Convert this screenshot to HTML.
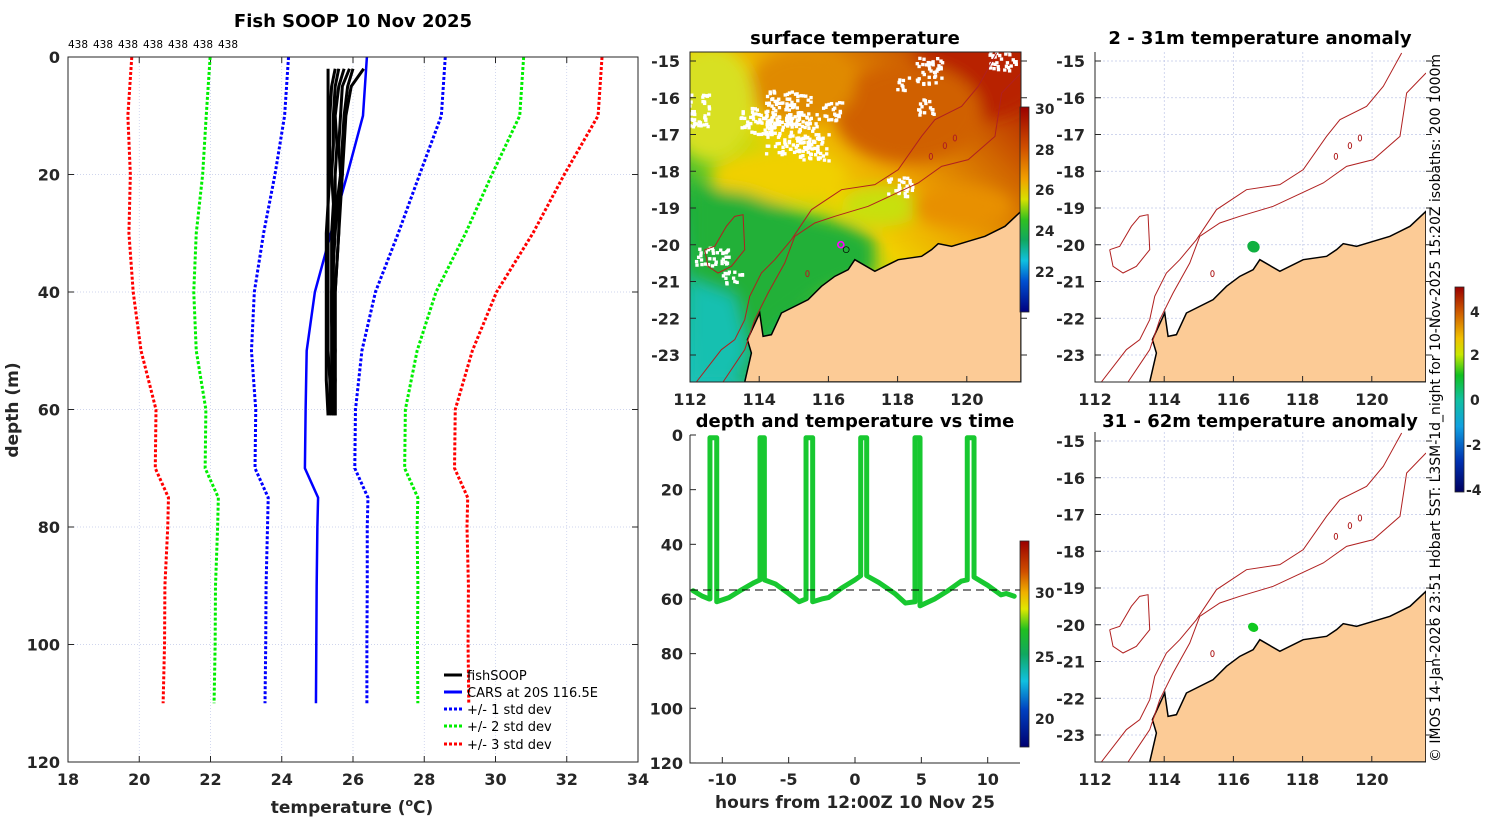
<!DOCTYPE html>
<html><head><meta charset="utf-8"><style>
body{margin:0;background:#fff;}
svg text{font-family:"DejaVu Sans","Liberation Sans",sans-serif;}
.tk{font-size:16px;font-weight:bold;fill:#262626;}
.ttl{font-size:18px;font-weight:bold;fill:#000;}
</style></head><body>
<svg id="fig" width="1500" height="820" viewBox="0 0 1500 820" xmlns="http://www.w3.org/2000/svg">
<defs>
<filter id="blur" x="-20%" y="-20%" width="140%" height="140%"><feGaussianBlur stdDeviation="22"/></filter>
<clipPath id="clipSST"><rect x="166" y="97" width="992" height="990"/></clipPath>
<linearGradient id="sstg" x1="200" y1="1050" x2="1120" y2="120" gradientUnits="userSpaceOnUse">
<stop offset="0" stop-color="#20c0b8"/><stop offset="0.25" stop-color="#18b040"/><stop offset="0.4" stop-color="#b0dc10"/><stop offset="0.5" stop-color="#f0d000"/><stop offset="0.65" stop-color="#eca000"/><stop offset="0.82" stop-color="#d06400"/><stop offset="1" stop-color="#b01800"/></linearGradient>
<linearGradient id="jet1" x1="0" y1="0" x2="0" y2="1">
<stop offset="0" stop-color="#9a0000"/><stop offset="0.2" stop-color="#d05000"/><stop offset="0.35" stop-color="#f0a000"/><stop offset="0.45" stop-color="#d8e000"/><stop offset="0.55" stop-color="#30c020"/><stop offset="0.65" stop-color="#10a860"/><stop offset="0.75" stop-color="#10c0e0"/><stop offset="0.85" stop-color="#0050d0"/><stop offset="1" stop-color="#000080"/></linearGradient>
<linearGradient id="jet2" x1="0" y1="0" x2="0" y2="1">
<stop offset="0" stop-color="#9a0000"/><stop offset="0.15" stop-color="#d05000"/><stop offset="0.25" stop-color="#f0b000"/><stop offset="0.33" stop-color="#e0e800"/><stop offset="0.43" stop-color="#20c020"/><stop offset="0.55" stop-color="#10a860"/><stop offset="0.68" stop-color="#10c0e0"/><stop offset="0.82" stop-color="#0040c0"/><stop offset="1" stop-color="#000070"/></linearGradient>
<linearGradient id="jet3" x1="0" y1="0" x2="0" y2="1">
<stop offset="0" stop-color="#9a0000"/><stop offset="0.13" stop-color="#d06000"/><stop offset="0.25" stop-color="#f0c000"/><stop offset="0.33" stop-color="#c8e800"/><stop offset="0.43" stop-color="#10c020"/><stop offset="0.55" stop-color="#10c0a0"/><stop offset="0.68" stop-color="#10a0e0"/><stop offset="0.85" stop-color="#0030b0"/><stop offset="1" stop-color="#000060"/></linearGradient>
</defs>

<g id="prof"></g>
<text class="ttl" x="353" y="27" text-anchor="middle">Fish SOOP 10 Nov 2025</text>
<text x="352" y="813" text-anchor="middle" style="font-size:17px;font-weight:bold;fill:#262626">temperature (<tspan dy="-7" font-size="11">o</tspan><tspan dy="7">C)</tspan></text>
<text transform="translate(18,410) rotate(-90)" text-anchor="middle" style="font-size:17px;font-weight:bold;fill:#262626">depth (m)</text>
<g style="font-size:13px">
<line x1="444" y1="675" x2="462" y2="675" stroke="#000" stroke-width="3"/><text x="467" y="680">fishSOOP</text>
<line x1="444" y1="692" x2="462" y2="692" stroke="#0000ff" stroke-width="3"/><text x="467" y="697">CARS at 20S 116.5E</text>
<line x1="444" y1="709" x2="462" y2="709" stroke="#0000ff" stroke-width="3" stroke-dasharray="3 2"/><text x="467" y="714">+/- 1 std dev</text>
<line x1="444" y1="726" x2="462" y2="726" stroke="#00ee00" stroke-width="3" stroke-dasharray="3 2"/><text x="467" y="731">+/- 2 std dev</text>
<line x1="444" y1="744" x2="462" y2="744" stroke="#ff0000" stroke-width="3" stroke-dasharray="3 2"/><text x="467" y="749">+/- 3 std dev</text>
</g>

<text class="ttl" x="855" y="44" text-anchor="middle">surface temperature</text>
<svg x="690" y="52" width="331" height="330" viewBox="166 97 992 990" preserveAspectRatio="none">
<g clip-path="url(#clipSST)">
<rect x="0" y="0" width="1300" height="1200" fill="url(#sstg)"/>
<g filter="url(#blur)">
<ellipse cx="1020" cy="170" rx="200" ry="130" fill="#b82000"/>
<ellipse cx="820" cy="280" rx="220" ry="150" fill="#d06000"/>
<ellipse cx="500" cy="200" rx="160" ry="110" fill="#e08a00"/>
<ellipse cx="230" cy="250" rx="130" ry="170" fill="#d8e020"/>
<ellipse cx="430" cy="470" rx="200" ry="80" fill="#f0d000"/>
<polygon points="166,500 330,520 500,580 650,620 720,660 720,760 560,820 420,920 340,1087 166,1087" fill="#20b038"/>
<polygon points="166,780 300,830 340,1000 300,1087 166,1087" fill="#18c0b0"/>
<ellipse cx="740" cy="560" rx="120" ry="60" fill="#c8e010"/>
<ellipse cx="980" cy="560" rx="150" ry="60" fill="#e89000"/>
</g>
<g id="clouds" fill="#fff"></g>
<g class="geo"></g>
<circle cx="618" cy="675" r="9" fill="none" stroke="#ff00ff" stroke-width="5"/>
<circle cx="634" cy="690" r="9" fill="none" stroke="#000" stroke-width="2"/>
</g>
</svg>
<rect x="690" y="52" width="331" height="330" fill="none" stroke="#262626" stroke-width="1"/>
<g id="sstAxes"></g>
<rect x="1020" y="107" width="9" height="205" fill="url(#jet1)" stroke="#262626" stroke-width="0.8"/>
<g class="tk" style="font-size:14px">
<text x="1035" y="114">30</text><text x="1035" y="155">28</text><text x="1035" y="195">26</text><text x="1035" y="236">24</text><text x="1035" y="277">22</text></g>

<text class="ttl" x="855" y="427" text-anchor="middle">depth and temperature vs time</text>
<g id="dvt"></g>
<text x="855" y="808" text-anchor="middle" style="font-size:17px;font-weight:bold;fill:#262626">hours from 12:00Z 10 Nov 25</text>
<rect x="1020" y="541" width="9" height="206" fill="url(#jet2)" stroke="#262626" stroke-width="0.8"/>
<g class="tk" style="font-size:14px">
<text x="1035" y="598">30</text><text x="1035" y="662">25</text><text x="1035" y="724">20</text></g>

<text class="ttl" x="1260" y="44" text-anchor="middle">2 - 31m temperature anomaly</text>
<text class="ttl" x="1260" y="427" text-anchor="middle">31 - 62m temperature anomaly</text>
<svg x="1095" y="52" width="331" height="330" viewBox="166 97 992 990" preserveAspectRatio="none">
<g class="grid"></g><g class="geo"></g>
<ellipse cx="641" cy="681" rx="19" ry="17" fill="#10b040" transform="rotate(30 641 681)"/>
</svg>
<svg x="1095" y="432" width="331" height="330" viewBox="166 97 992 990" preserveAspectRatio="none">
<g class="grid"></g><g class="geo"></g>
<ellipse cx="640" cy="683" rx="16" ry="13" fill="#10c820" transform="rotate(30 640 683)"/>
</svg>
<g id="anAxes"></g>
<rect x="1455" y="287" width="9" height="205" fill="url(#jet3)" stroke="#262626" stroke-width="0.8"/>
<g class="tk" style="font-size:14px">
<text x="1470" y="317">4</text><text x="1470" y="360">2</text><text x="1470" y="405">0</text><text x="1466" y="450">-2</text><text x="1466" y="495">-4</text></g>
<text transform="translate(1440,762) rotate(-90)" textLength="708" lengthAdjust="spacingAndGlyphs" style="font-size:14px;fill:#000">© IMOS 14-Jan-2026 23:51 Hobart SST: L3SM-1d_night for 10-Nov-2025 15:20Z isobaths: 200  1000m</text>
</svg>
<script>
const NS='http://www.w3.org/2000/svg';
const carsDepth=[0,10,20,30,40,50,60,70,75,80,90,100,110];
const carsMean=[26.39,26.28,25.84,25.38,24.93,24.7,24.67,24.65,25.02,25.0,24.98,24.97,24.96];
const carsStd=[2.2,2.2,2.03,1.89,1.7,1.55,1.4,1.4,1.4,1.4,1.42,1.42,1.43];
const soopDepth=[2,5,10,15,20,25,30,35,40,45,50,55,61];
const soopT1=[25.3,25.3,25.3,25.3,25.3,25.3,25.25,25.25,25.25,25.25,25.25,25.25,25.3];
const soopT2=[25.5,25.4,25.35,25.35,25.35,25.3,25.3,25.3,25.3,25.3,25.3,25.35,25.35];
const soopT3=[25.6,25.5,25.45,25.45,25.4,25.45,25.4,25.4,25.4,25.4,25.4,25.4,25.4];
const soopT4=[25.75,25.6,25.5,25.55,25.5,25.5,25.45,25.45,25.4,25.4,25.45,25.5,25.5];
const soopT5=[25.9,25.7,25.65,25.6,25.65,25.55,25.5,25.45,25.45,25.45,25.5,25.5,25.45];
const soopT6=[26.0,25.85,25.75,25.7,25.7,25.6,25.6,25.55,25.5,25.5,25.5,25.45,25.45];
const soopT7=[26.3,25.95,25.8,25.75,25.7,25.65,25.6,25.55,25.5,25.5,25.5,25.5,25.5];
const xTicks=[18,20,22,24,26,28,30,32,34];
const yTicks=[0,20,40,60,80,100,120];
const countLabels=['438','438','438','438','438','438','438'];
const dvtTime=[-12.2,-11.5,-11.0,-10.93,-10.93,-10.42,-10.42,-9.5,-8.5,-7.6,-7.16,-7.16,-6.83,-6.83,-6,-5,-4.2,-3.69,-3.69,-3.19,-3.19,-2.5,-2,-1,0,0.43,0.43,0.88,0.88,1.8,3.0,3.8,4.52,4.52,4.9,4.9,6,7,8,8.46,8.46,8.97,8.97,10,11,11.4,12];
const dvtDepth=[57,59,60,60,1,1,61,59.5,56.5,54,53,1,1,53,54.5,58,61,60,1,1,61,60,59.5,56,53,51.5,1,1,51.5,54,58,61.5,61,1,1,62.5,60,57,53.5,53,1,1,52,55,58.5,58,59];
const dvtXTicks=[-10,-5,0,5,10];
const dvtYTicks=[0,20,40,60,80,100,120];
const refDepth=[56.7];
const lonTicks=[112,114,116,118,120];
const latTicks=[-15,-16,-17,-18,-19,-20,-21,-22,-23];

function el(tag,attrs,parent){const e=document.createElementNS(NS,tag);for(const k in attrs)e.setAttribute(k,attrs[k]);parent.appendChild(e);return e;}
const X=t=>68+(t-18)*35.625, Y=d=>57+d*5.875;
const prof=document.getElementById('prof');
xTicks.forEach(t=>{
  const g=el('line',{x1:X(t),x2:X(t),y1:57,y2:762,stroke:'#c0c8e8','stroke-width':0.7,'stroke-dasharray':'1 2'},prof);
  
  
  el('line',{x1:X(t),x2:X(t),y1:57,y2:63,stroke:'#262626'},prof);
  el('line',{x1:X(t),x2:X(t),y1:762,y2:756,stroke:'#262626'},prof);
  const l=el('text',{x:X(t),y:785,'text-anchor':'middle',class:'tk'},prof);l.textContent=t;
  
  
});
yTicks.forEach(d=>{
  const g=el('line',{x1:68,x2:638,y1:Y(d),y2:Y(d),stroke:'#c0c8e8','stroke-width':0.7,'stroke-dasharray':'1 2'},prof);
  
  
  el('line',{x1:68,x2:74,y1:Y(d),y2:Y(d),stroke:'#262626'},prof);
  el('line',{x1:638,x2:632,y1:Y(d),y2:Y(d),stroke:'#262626'},prof);
  const l=el('text',{x:60,y:Y(d)+6,'text-anchor':'end',class:'tk'},prof);l.textContent=d;
  
  
});
countLabels.forEach((c,i)=>{const t=el('text',{x:78+i*25,y:48,'text-anchor':'middle','font-size':'10.5'},prof);t.textContent=c;
  
  });
const stdCols={1:'#0000ff',2:'#00ee00',3:'#ff0000'};
[3,2,1].forEach(k=>[-1,1].forEach(s=>{
  const pts=carsDepth.map((d,i)=>X(carsMean[i]+s*k*carsStd[i])+','+Y(d)).join(' ');
  const p=el('polyline',{points:pts,fill:'none',stroke:stdCols[k],'stroke-width':3,'stroke-dasharray':'3 2'},prof);
  
  
}));
const mean=el('polyline',{points:carsDepth.map((d,i)=>X(carsMean[i])+','+Y(d)).join(' '),fill:'none',stroke:'#0000ff','stroke-width':2.5},prof);


[soopT1,soopT2,soopT3,soopT4,soopT5,soopT6,soopT7].forEach(arr=>{
  const p=el('polyline',{points:soopDepth.map((d,i)=>X(arr[i])+','+Y(d)).join(' '),fill:'none',stroke:'#000','stroke-width':3,'stroke-linejoin':'round'},prof);
  
  
});
el('rect',{x:68,y:57,width:570,height:705,fill:'none',stroke:'#262626','stroke-width':1},prof);

const dvt=document.getElementById('dvt');
const TX=t=>855+t*13.27, TY=d=>435+d*2.733;
dvtXTicks.forEach(t=>{
  el('line',{x1:TX(t),x2:TX(t),y1:763,y2:757,stroke:'#262626'},dvt);
  const l=el('text',{x:TX(t),y:785,'text-anchor':'middle',class:'tk'},dvt);l.textContent=t;
  
  
});
dvtYTicks.forEach(d=>{
  el('line',{x1:690,x2:696,y1:TY(d),y2:TY(d),stroke:'#262626'},dvt);
  const l=el('text',{x:683,y:TY(d)+6,'text-anchor':'end',class:'tk'},dvt);l.textContent=d;
  
  
});
const dv=el('polyline',{points:dvtTime.map((t,i)=>TX(t)+','+TY(dvtDepth[i])).join(' '),fill:'none',stroke:'#18c830','stroke-width':5,'stroke-linejoin':'round','stroke-linecap':'round'},dvt);


refDepth.forEach(d=>{const r=el('line',{x1:690,x2:1020,y1:TY(d),y2:TY(d),stroke:'#000','stroke-dasharray':'8 5','stroke-width':1},dvt);
  
  });
el('polyline',{points:'690,435 690,763 1020,763',fill:'none',stroke:'#262626','stroke-width':1},dvt);

// clouds: small speckle squares in cluster areas (decoration)
const clouds=document.getElementById('clouds');
const cl=[[460,260,70,50],[370,300,60,40],[470,340,80,60],[530,380,50,40],[590,270,30,30],[880,150,40,40],[800,190,20,20],[870,260,25,25],[190,270,30,50],[230,710,50,30],[290,770,30,20],[790,500,40,30],[1100,120,40,30]];
let sd=7;function rnd(){sd=(sd*9301+49297)%233280;return sd/233280;}
cl.forEach(c=>{for(let i=0;i<c[2]*c[3]/40;i++){el('rect',{x:c[0]-c[2]+rnd()*2*c[2],y:c[1]-c[3]+rnd()*2*c[3],width:10,height:10},clouds);}});

const coast='330,1087 350,1000 338,960 375,880 385,950 410,945 440,880 520,840 560,800 600,770 640,750 660,720 720,755 790,720 860,710 890,690 910,672 950,680 1000,665 1050,650 1110,620 1158,575 1158,1087';
const iso1000='185,1087 260,990 300,960 330,900 345,830 380,760 420,720 470,660 530,570 620,510 720,495 790,450 860,350 900,300 980,260 1030,200 1085,100';
const iso200='265,1087 330,990 360,900 400,820 450,730 480,650 540,610 600,590 700,560 850,490 920,440 1000,420 1080,350 1100,220 1158,160';
const plateau='210,690 240,680 275,620 300,590 325,585 330,690 290,740 250,760 220,740 210,690';
document.querySelectorAll('.geo').forEach(g=>{
  el('polygon',{points:coast,fill:'#fccb96',stroke:'#000','stroke-width':1.5,'vector-effect':'non-scaling-stroke'},g);
  [iso1000,iso200,plateau].forEach(p=>el('polyline',{points:p,fill:'none',stroke:'#b02020','stroke-width':1,'vector-effect':'non-scaling-stroke'},g));
  [[888,410],[930,378],[960,355],[518,762]].forEach(c=>el('ellipse',{cx:c[0],cy:c[1],rx:5,ry:9,fill:'none',stroke:'#b02020','stroke-width':1,'vector-effect':'non-scaling-stroke'},g));
});
const LX=(base,lon)=>base+(lon-112)*34.6, LY=(base,lat)=>base+9+(-15-lat)*36.75;
document.querySelectorAll('.grid').forEach(g=>{
  lonTicks.forEach(l=>el('line',{x1:166+(l-112)*103.8,x2:166+(l-112)*103.8,y1:97,y2:1087,stroke:'#c0c8e8','stroke-width':0.7,'stroke-dasharray':'2 2','vector-effect':'non-scaling-stroke'},g));
  latTicks.forEach(l=>el('line',{x1:166,x2:1158,y1:124+(-15-l)*110.25,y2:124+(-15-l)*110.25,stroke:'#c0c8e8','stroke-width':0.7,'stroke-dasharray':'2 2','vector-effect':'non-scaling-stroke'},g));
});
function mapAxes(g,x0,y0,withLonLabels){
  lonTicks.forEach(l=>{const x=LX(x0,l);
    el('line',{x1:x,x2:x,y1:y0+330,y2:y0+324,stroke:'#262626'},g);
    if(withLonLabels){const t=el('text',{x:x,y:y0+353,'text-anchor':'middle',class:'tk'},g);t.textContent=l;
      
      }
  });
  latTicks.forEach(l=>{const y=LY(y0,l);
    el('line',{x1:x0,x2:x0+6,y1:y,y2:y,stroke:'#262626'},g);
    el('line',{x1:x0+331,x2:x0+337,y1:y,y2:y,stroke:'#262626'},g);
    const t=el('text',{x:x0-10,y:y+6,'text-anchor':'end',class:'tk'},g);t.textContent=l;
    
    
  });
}
mapAxes(document.getElementById('sstAxes'),690,52,true);
const an=document.getElementById('anAxes');
mapAxes(an,1095,52,true);
mapAxes(an,1095,432,true);
el('polyline',{points:'1095,52 1095,382 1426,382',fill:'none',stroke:'#262626'},an);
el('polyline',{points:'1095,432 1095,762 1426,762',fill:'none',stroke:'#262626'},an);
</script>
</body></html>
